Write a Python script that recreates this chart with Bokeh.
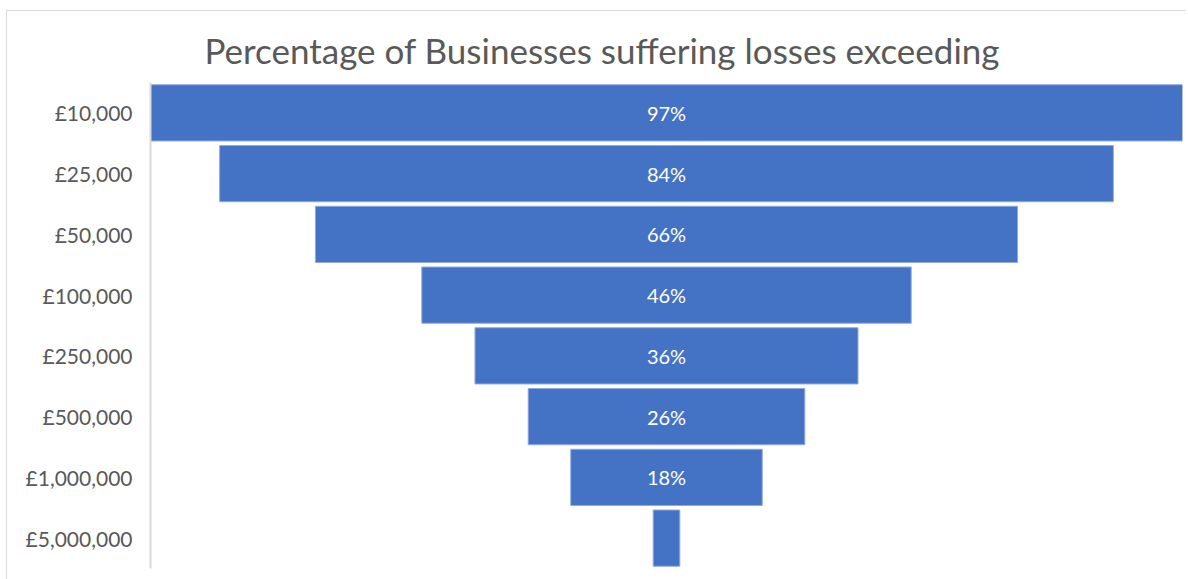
from bokeh.plotting import figure
from bokeh.models import ColumnDataSource, LabelSet, Range1d
from bokeh.core.properties import value
from bokeh.embed import file_html
from bokeh.resources import INLINE

categories = ["£10,000", "£25,000", "£50,000", "£100,000", "£250,000",
              "£500,000", "£1,000,000", "£5,000,000"]
values = [97, 84, 66, 46, 36, 26, 18, 2.5]
show_label = [True, True, True, True, True, True, True, False]

labels = [f"{v:g}%" if s else "" for v, s in zip(values, show_label)]
src = ColumnDataSource(dict(
    cat=categories,
    left=[-v / 2 for v in values],
    right=[v / 2 for v in values],
    lab=labels,
    zero=[0] * len(values),
))

FONT = "Lato"
p = figure(width=1180, height=569, y_range=list(reversed(categories)),
           x_range=Range1d(-48.5, 48.5),
           output_backend="svg", toolbar_location=None,
           min_border_left=143, min_border_right=5,
           min_border_top=71, min_border_bottom=12)
p.margin = (10, 0, 0, 6)
p.styles = {"border-top": "1px solid #d9d9d9", "border-left": "1px solid #d9d9d9"}

p.title.text = "Percentage of Businesses suffering losses exceeding"
p.title.align = "left"
p.title.offset = 54
p.title.text_font = FONT
p.title.text_font_size = "35px"
p.title.text_font_style = "normal"
p.title.text_color = "#595959"
p.title.standoff = 23

p.hbar(y="cat", left="left", right="right", height=0.925, source=src,
       fill_color="#4472C4", line_color="#8faadc", line_width=1)

p.add_layout(LabelSet(x="zero", y="cat", text="lab", source=src,
                      text_align="center", text_baseline="middle",
                      text_color="white", text_font=value(FONT),
                      text_font_size="20px"))

p.xaxis.visible = False
p.xgrid.visible = False
p.ygrid.visible = False
p.outline_line_color = None
p.yaxis.axis_line_color = "#d9d9d9"
p.yaxis.axis_line_width = 2
p.yaxis.major_tick_line_color = None
p.yaxis.minor_tick_line_color = None
p.yaxis.major_tick_out = 0
p.yaxis.major_tick_in = 0
p.yaxis.minor_tick_out = 0
p.yaxis.major_label_standoff = 18
p.yaxis.major_label_text_font = FONT
p.yaxis.major_label_text_font_size = "21px"
p.yaxis.major_label_text_color = "#595959"

open("out.html", "w").write(file_html(p, INLINE))
